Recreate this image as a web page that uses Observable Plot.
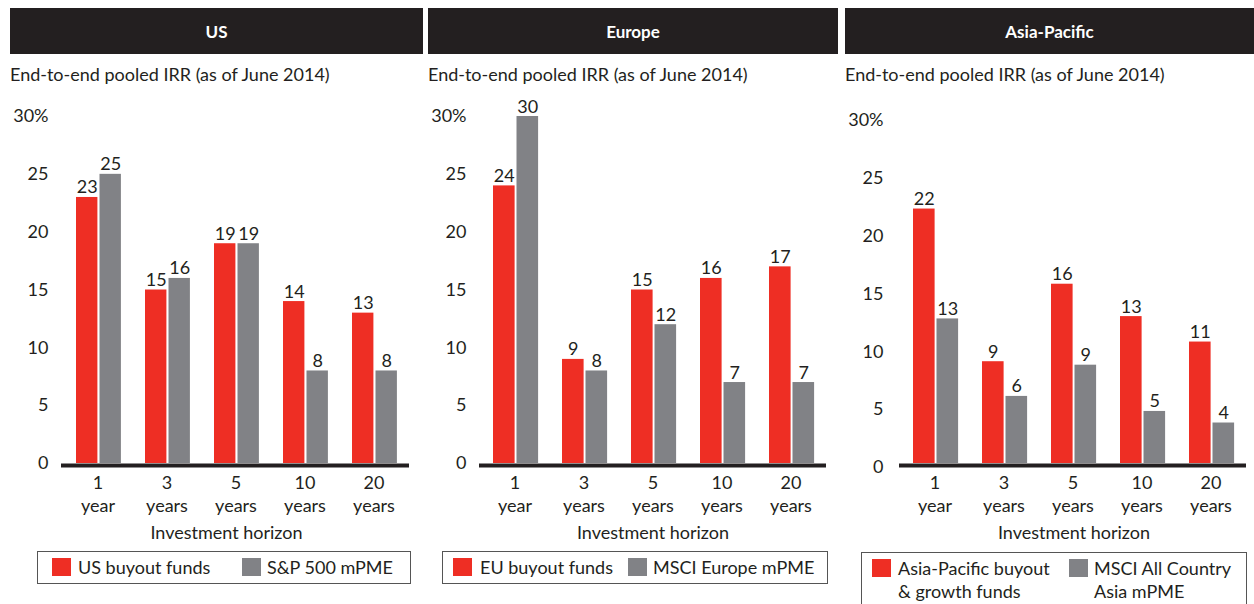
<!DOCTYPE html>
<html><head><meta charset="utf-8">
<script src="https://cdn.jsdelivr.net/npm/d3@7"></script>
<script src="https://cdn.jsdelivr.net/npm/@observablehq/plot@0.6"></script>
<style>
body{margin:0;background:#fff;font-family:Lato,"Noto Sans",sans-serif;color:#231f20}
#root{position:relative;width:1254px;height:604px;overflow:hidden}
.panel{position:absolute;top:0;height:604px}
.panel svg{position:absolute;top:0;left:0}
.header{position:absolute;top:8px;left:0;right:0;height:46px;background:#231f20;color:#fff;font-weight:bold;font-size:17px;display:flex;align-items:center;justify-content:center;z-index:2}
.sub{position:absolute;top:63px;left:0;white-space:nowrap;font-size:18px;line-height:22px;z-index:2}
.legend{position:absolute;border:1px solid #555;box-sizing:border-box;z-index:2;background:#fff}
.sw{position:absolute;width:19px;height:18px;top:6px}
.lt{position:absolute;top:4px;font-size:18px;white-space:nowrap;line-height:23px}
</style></head><body><div id="root"></div>
<script>
// ---- data ----
const horizons = ["1 year", "3 years", "5 years", "10 years", "20 years"];
const horizonLabels = ["1\nyear", "3\nyears", "5\nyears", "10\nyears", "20\nyears"];
const yTicks = [0, 5, 10, 15, 20, 25, 30];
const regions = ["US", "Europe", "Asia-Pacific"];
const subtitle = "End-to-end pooled IRR (as of June 2014)";
const xTitle = "Investment horizon";

const usBuyout = [23, 15, 19, 14, 13];
const usPME = [25, 16, 19, 8, 8];
const euBuyout = [24, 9, 15, 16, 17];
const euPME = [30, 8, 12, 7, 7];
const apBuyout = [22.0, 8.8, 15.5, 12.7, 10.5];
const apPME = [12.5, 5.8, 8.5, 4.5, 3.5];

const usLegend = ["US buyout funds", "S&P 500 mPME"];
const euLegend = ["EU buyout funds", "MSCI Europe mPME"];
const apLegend = ["Asia-Pacific buyout\n& growth funds", "MSCI All Country\nAsia mPME"];

// ---- styles ----
const RED = "#EE2E24", GRAY = "#818286", INK = "#231f20";
const FONT = 'Lato, "Noto Sans", sans-serif';

const panels = [
  {title: regions[0], a: usBuyout, b: usPME, legend: usLegend, x: 10, w: 413, axisStart: 61, axisEnd: 409, tickPad: 13, tickDy: 0, titleDx: -9,
   lg: {left: 27, top: 551, w: 374, h: 33, s1: 15, t1: 41, s2: 205, t2: 230}},
  {title: regions[1], a: euBuyout, b: euPME, legend: euLegend, x: 428, w: 410, axisStart: 479, axisEnd: 826, tickPad: 13, tickDy: 0, titleDx: 0,
   lg: {left: 14, top: 551, w: 386, h: 33, s1: 11, t1: 38, s2: 186, t2: 211}},
  {title: regions[2], a: apBuyout, b: apPME, legend: apLegend, x: 845, w: 409, axisStart: 899, axisEnd: 1246, tickPad: 16, tickDy: 4, titleDx: 1,
   lg: {left: 16, top: 552, w: 386, h: 60, s1: 11, t1: 37, s2: 208, t2: 233}}
];

const root = document.getElementById("root");

for (const p of panels) {
  const div = document.createElement("div");
  div.className = "panel";
  div.style.left = p.x + "px";
  div.style.width = p.w + "px";
  root.appendChild(div);

  const data = horizons.map((h, i) => ({h, a: p.a[i], b: p.b[i], label: horizonLabels[i]}));
  const step = (p.axisEnd - p.axisStart) / horizons.length;

  const chart = Plot.plot({
    width: p.w,
    height: 604,
    marginLeft: p.axisStart - p.x,
    marginRight: p.x + p.w - p.axisEnd,
    marginTop: 116,
    marginBottom: 141,
    style: {fontFamily: FONT, fontSize: "18px", color: INK, background: "transparent", overflow: "visible"},
    x: {domain: horizons, padding: 0, axis: null},
    y: {domain: [0, 30], axis: null},
    marks: [
      Plot.barY(data, {x: "h", y: "a", fill: RED, insetLeft: 13, insetRight: step - 35}),
      Plot.barY(data, {x: "h", y: "b", fill: GRAY, insetLeft: 36.5, insetRight: step - 58.5}),
      Plot.text(data, {x: "h", y: "a", text: d => String(Math.round(d.a)), dx: 24 - step / 2, dy: -4, lineAnchor: "bottom", fontSize: 18, fill: INK}),
      Plot.text(data, {x: "h", y: "b", text: d => String(Math.round(d.b)), dx: 47.5 - step / 2, dy: -4, lineAnchor: "bottom", fontSize: 18, fill: INK}),
      Plot.ruleY([0], {stroke: INK, strokeWidth: 4, dy: 2}),
      Plot.text(yTicks, {y: d => d, text: d => d === 30 ? "30%" : String(d), frameAnchor: "left", dx: -p.tickPad, dy: p.tickDy, textAnchor: "end", fontSize: 18, fill: INK}),
      Plot.text(data, {x: "h", text: "label", frameAnchor: "bottom", lineAnchor: "top", dy: 9, lineHeight: 1.28, fontSize: 18, fill: INK}),
      Plot.text([xTitle], {text: d => d, frameAnchor: "bottom", dy: 75, dx: p.titleDx, fontSize: 18, fill: INK})
    ]
  });
  div.appendChild(chart);

  const hd = document.createElement("div");
  hd.className = "header";
  hd.textContent = p.title;
  div.appendChild(hd);

  const sb = document.createElement("div");
  sb.className = "sub";
  sb.textContent = subtitle;
  div.appendChild(sb);

  const lg = document.createElement("div");
  lg.className = "legend";
  Object.assign(lg.style, {left: p.lg.left + "px", top: p.lg.top + "px", width: p.lg.w + "px", height: p.lg.h + "px"});
  const items = [[RED, p.legend[0], p.lg.s1, p.lg.t1], [GRAY, p.legend[1], p.lg.s2, p.lg.t2]];
  for (const [c, t, sx, tx] of items) {
    const sw = document.createElement("div");
    sw.className = "sw";
    sw.style.left = (sx - 1) + "px";
    sw.style.background = c;
    lg.appendChild(sw);
    const lt = document.createElement("div");
    lt.className = "lt";
    lt.style.left = (tx - 1) + "px";
    lt.style.whiteSpace = "pre";
    lt.textContent = t;
    lg.appendChild(lt);
  }
  div.appendChild(lg);
}
</script>
</body></html>
